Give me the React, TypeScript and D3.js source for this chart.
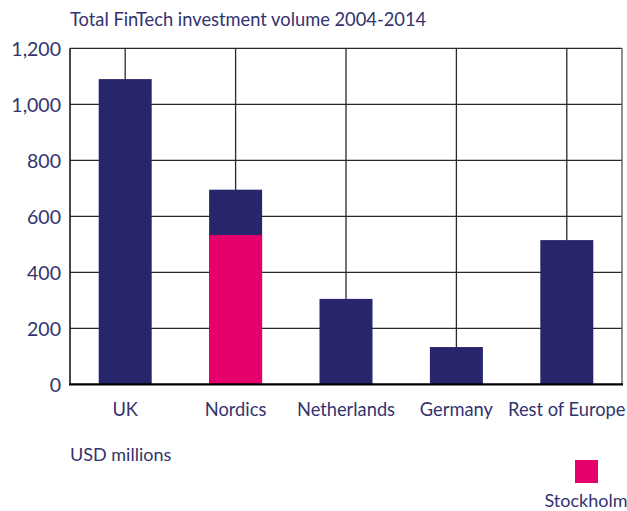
import React from "react";
import * as d3 from "d3";

const categories = ["UK", "Nordics", "Netherlands", "Germany", "Rest of Europe"];
const totalValues = [1090, 695, 305, 133, 515];
const stockholmValues = [0, 533, 0, 0, 0];
const yTicks = [0, 200, 400, 600, 800, 1000, 1200];
const title = "Total FinTech investment volume 2004-2014";
const unitLabel = "USD millions";
const legendLabel = "Stockholm";

const W = 627;
const H = 511;
const navy = "#27256b";
const pink = "#e5006c";
const textColor = "#33336e";
const font = "Lato, 'Open Sans', sans-serif";

export default function App() {
  const left = 70, right = 622, top = 48.3, bottom = 384.3;
  const x = d3.scaleBand<string>().domain(categories).range([left, right]).paddingInner(0.52).paddingOuter(0.26);
  const y = d3.scaleLinear().domain([0, 1200]).range([bottom, top]);
  const fmt = d3.format(",");
  const centers = categories.map((c) => (x(c) as number) + x.bandwidth() / 2);
  return (
    <svg width={W} height={H} style={{ position: "absolute", left: 0, top: 0, background: "#fff" }}>
      <text x={70} y={19} dy="0.36em" fontFamily={font} fontSize={18.3} fill={textColor}>{title}</text>
      {/* grid */}
      {yTicks.slice(1).map((t) => (
        <line key={t} x1={left} x2={right} y1={y(t)} y2={y(t)} stroke="#2a2a2a" strokeWidth={1.3} />
      ))}
      {centers.map((cx, i) => (
        <line key={i} x1={cx} x2={cx} y1={top} y2={bottom} stroke="#2a2a2a" strokeWidth={1.3} />
      ))}
      <line x1={right} x2={right} y1={top} y2={bottom} stroke="#555" strokeWidth={1.3} />
      {/* bars */}
      {categories.map((c, i) => (
        <rect key={c} x={x(c)} width={x.bandwidth()} y={y(totalValues[i])} height={y(0) - y(totalValues[i])} fill={navy} />
      ))}
      {categories.map((c, i) =>
        stockholmValues[i] > 0 ? (
          <rect key={"s" + c} x={x(c)} width={x.bandwidth()} y={y(stockholmValues[i])} height={y(0) - y(stockholmValues[i])} fill={pink} />
        ) : null
      )}
      {/* axes */}
      <line x1={left} x2={left} y1={top} y2={bottom} stroke="#1a1a1a" strokeWidth={1.6} />
      <line x1={left - 1} x2={right + 1} y1={bottom} y2={bottom} stroke="#000" strokeWidth={2.2} />
      {yTicks.map((t) => (
        <text key={t} x={61} y={y(t) + 1} dy="0.36em" textAnchor="end" fontFamily={font} fontSize={19.5} fill={textColor}>{fmt(t)}</text>
      ))}
      {categories.map((c, i) => (
        <text key={c} x={centers[i]} y={409} dy="0.36em" textAnchor="middle" fontFamily={font} fontSize={18.3} fill={textColor}>{c}</text>
      ))}
      <text x={70} y={455} dy="0.36em" fontFamily={font} fontSize={18} fill={textColor}>{unitLabel}</text>
      <rect x={575} y={460} width={23} height={23} fill={pink} />
      <text x={586} y={501} dy="0.36em" textAnchor="middle" fontFamily={font} fontSize={18} fill={textColor}>{legendLabel}</text>
    </svg>
  );
}
